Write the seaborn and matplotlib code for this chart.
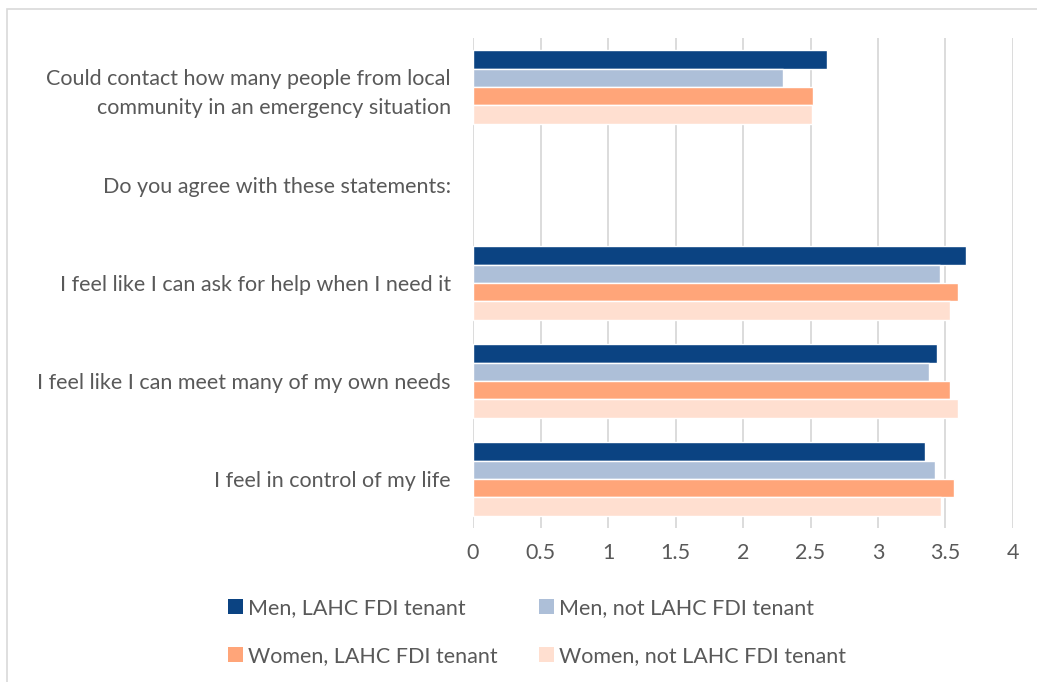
import matplotlib
matplotlib.use("Agg")
import matplotlib.pyplot as plt
import matplotlib.patches as mpatches
import numpy as np
import pandas as pd
import seaborn as sns

categories = [
    "Could contact how many people from local\ncommunity in an emergency situation",
    "Do you agree with these statements:",
    "I feel like I can ask for help when I need it",
    "I feel like I can meet many of my own needs",
    "I feel in control of my life",
]
series = [
    "Men, LAHC FDI tenant",
    "Men, not LAHC FDI tenant",
    "Women, LAHC FDI tenant",
    "Women, not LAHC FDI tenant",
]
men_lahc = [2.62, np.nan, 3.65, 3.44, 3.35]
men_not_lahc = [2.30, np.nan, 3.46, 3.38, 3.42]
women_lahc = [2.52, np.nan, 3.59, 3.53, 3.56]
women_not_lahc = [2.51, np.nan, 3.53, 3.59, 3.47]
x_ticks = [0, 0.5, 1, 1.5, 2, 2.5, 3, 3.5, 4]
x_tick_labels = ["0", "0.5", "1", "1.5", "2", "2.5", "3", "3.5", "4"]

colors = ["#0B4382", "#ADBFD8", "#FFA579", "#FFDFD0"]
text_color = "#595959"

rows = []
for name, vals in zip(series, [men_lahc, men_not_lahc, women_lahc, women_not_lahc]):
    for cat, v in zip(categories, vals):
        rows.append({"category": cat, "series": name, "value": v})
df = pd.DataFrame(rows)

sns.set_theme(style="white")
plt.rcParams["font.family"] = ["Lato", "DejaVu Sans"]

fig = plt.figure(figsize=(10.37, 6.82), dpi=100)
ax = fig.add_axes([473 / 1037, 1 - 528 / 682, 540 / 1037, 490 / 682])

sns.barplot(
    data=df, y="category", x="value", hue="series",
    order=categories, hue_order=series, palette=colors, saturation=1,
    orient="h", width=0.75, errorbar=None, legend=False,
    edgecolor="white", linewidth=1.0, ax=ax, zorder=2,
)

ax.set_xlim(0, 4)
ax.set_xticks(x_ticks)
ax.set_xticklabels(x_tick_labels)
ax.set_xlabel("")
ax.set_ylabel("")
ax.xaxis.grid(True, color="#D9D9D9", linewidth=1.3)
ax.yaxis.grid(False)
ax.set_axisbelow(True)
for s in ax.spines.values():
    s.set_visible(False)
ax.tick_params(axis="x", length=0, pad=11, labelsize=15.5, labelcolor=text_color)
ax.tick_params(axis="y", length=0, pad=16, labelsize=15.5, labelcolor=text_color)
for lbl in ax.get_yticklabels():
    lbl.set_linespacing(1.55)

handles = [mpatches.Patch(facecolor=c, edgecolor="none") for c in colors]
order = [0, 2, 1, 3]
leg = fig.legend(
    [handles[i] for i in order], [series[i] for i in order],
    ncol=2, loc="center", bbox_to_anchor=(537 / 1037, 1 - 632 / 682),
    frameon=False, fontsize=15.5, handlelength=0.7, handleheight=0.7,
    handletextpad=0.25, columnspacing=1.9, labelspacing=1.3,
)
for t in leg.get_texts():
    t.set_color(text_color)

fig.patches.append(mpatches.Rectangle(
    (7 / 1037, -0.1), 1.2, 1 - 9 / 682 + 0.1, transform=fig.transFigure,
    fill=False, edgecolor="#D9D9D9", linewidth=1.2))

fig.savefig("out.png", dpi=100, facecolor="white")
